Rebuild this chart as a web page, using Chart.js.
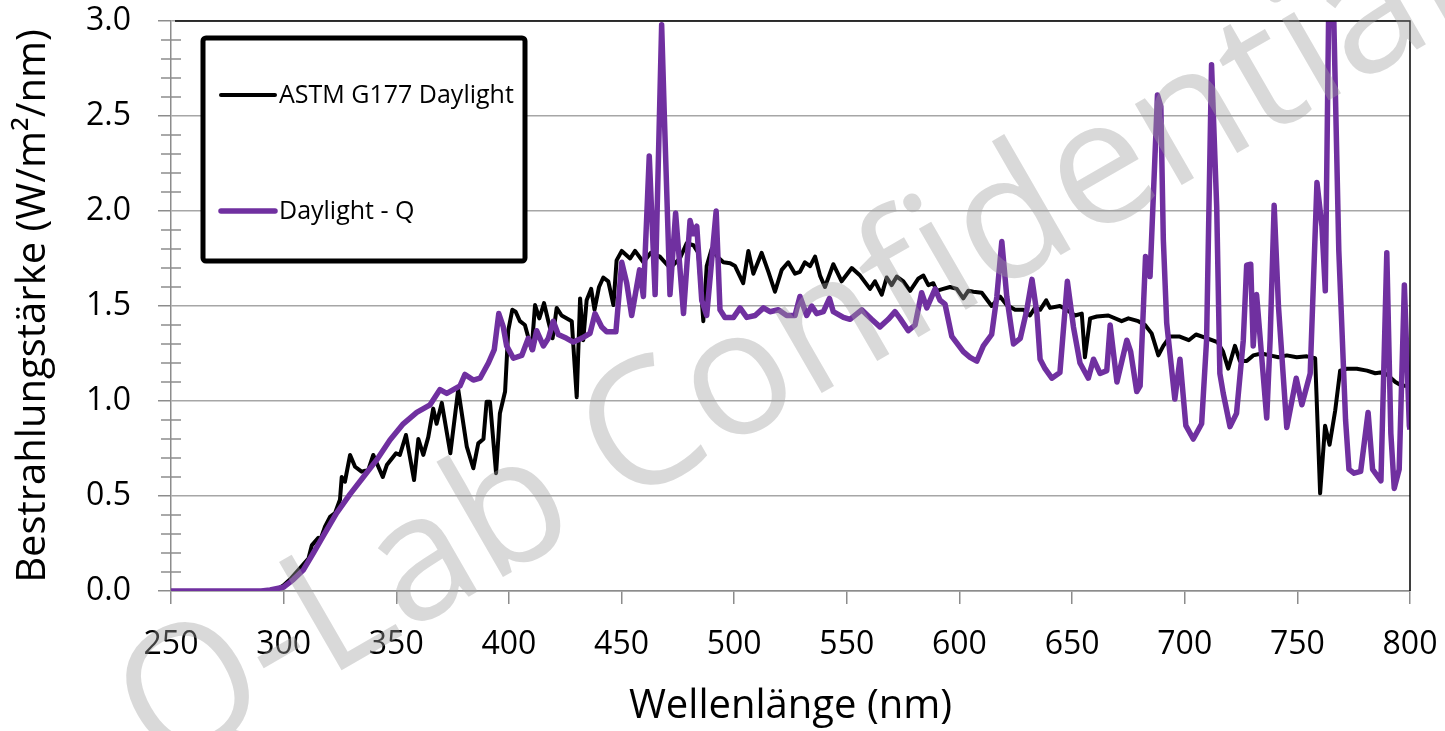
<!DOCTYPE html>
<html>
<head>
<meta charset="utf-8">
<title>Bestrahlungsstärke</title>
<script src="https://cdn.jsdelivr.net/npm/chart.js@4.4.1/dist/chart.umd.min.js"></script>
<style>
  html, body { margin: 0; padding: 0; background: #fff; }
  #wrap { width: 1445px; height: 731px; }
</style>
</head>
<body>
<div id="wrap"><canvas id="spectrumChart" width="1445" height="731"></canvas></div>
<script>
// ASTM G177 Daylight (black)
const astmWl = [250, 280, 296, 300, 302.8, 308, 311, 312.5, 315.4, 316, 318.4, 320.6, 322.8, 325, 325.8, 327.2, 329.5, 331.7, 334.6, 337.6,
  339.8, 344, 345.8, 349.9, 351.6, 354.3, 357.9, 359.8, 362, 364.2, 366.4, 367.9, 370.2, 374, 377.5, 381.3, 384.2, 386.4, 388.7, 390.1,
  391.6, 394.3, 396, 398.3, 399.7, 401.5, 403, 404.9, 407.1, 410.1, 411.6, 413.5, 415.6, 417.5, 419.4, 421.2, 423.4, 427.9, 430.1, 431.6,
  433, 434.5, 436.5, 438, 440, 441.9, 444.1, 446.4, 447.8, 450.1, 453.8, 456, 459.7, 463, 467, 471.5, 475.9, 478.9, 481.9, 484.1,
  486.3, 487.8, 490, 492.5, 495.2, 498.2, 500.4, 504, 506.3, 508.5, 512.2, 515.2, 518.1, 521.1, 524, 527, 529.2, 531.4, 533.7, 535.9,
  538.1, 540.3, 544, 547.7, 552.2, 555.9, 560.3, 562.5, 565.5, 567.7, 569.9, 572.2, 575.1, 578.1, 581.8, 584, 586.2, 588.4, 589.9, 592.8,
  595.8, 598.8, 601.7, 603.9, 606.2, 609.9, 614.3, 618, 621, 624.7, 628.4, 631.3, 633.5, 635.8, 638.5, 640.2, 644.6, 647.6, 651.3, 654.3,
  655.7, 658, 661, 666.1, 672, 675, 679.4, 682.4, 685.3, 688.3, 690.5, 693.5, 697.5, 701.8, 705, 710, 714.5, 717, 719.3, 722.3,
  724.5, 727.5, 730.4, 734.1, 737.8, 741.6, 745.3, 749.7, 754.2, 757.9, 760.1, 762.3, 764.3, 766.8, 769, 772, 776.4, 780.9, 784.6, 786.8,
  789.8, 793.5, 796.4, 800];
const astmVal = [0, 0, 0, 0.03, 0.06, 0.13, 0.17, 0.24, 0.28, 0.26, 0.34, 0.39, 0.41, 0.48, 0.60, 0.575, 0.716, 0.654, 0.628, 0.637,
  0.716, 0.60, 0.663, 0.725, 0.716, 0.821, 0.584, 0.80, 0.716, 0.81, 0.96, 0.88, 0.99, 0.725, 1.06, 0.76, 0.646, 0.777, 0.80, 0.996,
  0.996, 0.62, 0.935, 1.05, 1.37, 1.48, 1.47, 1.42, 1.40, 1.27, 1.505, 1.435, 1.515, 1.42, 1.33, 1.49, 1.45, 1.42, 1.02, 1.54,
  1.32, 1.53, 1.59, 1.48, 1.60, 1.65, 1.63, 1.505, 1.74, 1.79, 1.75, 1.79, 1.73, 1.78, 1.76, 1.70, 1.75, 1.83, 1.82, 1.78,
  1.42, 1.71, 1.80, 1.76, 1.73, 1.725, 1.71, 1.62, 1.79, 1.67, 1.78, 1.68, 1.575, 1.69, 1.73, 1.67, 1.68, 1.73, 1.71, 1.76,
  1.66, 1.60, 1.72, 1.63, 1.70, 1.66, 1.59, 1.63, 1.56, 1.65, 1.61, 1.655, 1.63, 1.58, 1.645, 1.66, 1.61, 1.62, 1.58, 1.59,
  1.60, 1.59, 1.54, 1.58, 1.575, 1.57, 1.50, 1.55, 1.505, 1.48, 1.48, 1.45, 1.49, 1.48, 1.53, 1.49, 1.50, 1.48, 1.45, 1.46,
  1.23, 1.435, 1.445, 1.45, 1.42, 1.435, 1.42, 1.40, 1.356, 1.24, 1.29, 1.34, 1.34, 1.32, 1.35, 1.33, 1.31, 1.26, 1.17, 1.29,
  1.21, 1.21, 1.24, 1.25, 1.24, 1.23, 1.24, 1.23, 1.235, 1.225, 0.514, 0.87, 0.77, 0.95, 1.16, 1.17, 1.17, 1.16, 1.146, 1.15,
  1.14, 1.10, 1.08, 1.08];

// Daylight - Q (purple)
const qWl = [250, 290, 294, 299.9, 304.3, 308.7, 313.2, 317.6, 323.5, 329.5, 335.4, 341.3, 347.2, 353.1, 359.1, 365, 369.4, 372.4, 378.3, 380.5,
  384.2, 387.2, 390.9, 393.5, 395.5, 397.5, 399, 402, 405.7, 408.6, 410.5, 412.3, 415.3, 417.5, 419.7, 421.9, 425.6, 428.6, 432.3, 436,
  438.2, 441.2, 443.4, 447.5, 450.1, 452.3, 454.5, 458, 459.7, 462.3, 464.9, 467.8, 469, 471.5, 474, 477.5, 480.4, 481.9, 483.4, 485.6,
  487.8, 492, 493.7, 495.9, 499.7, 502.6, 505.6, 509.3, 513, 515.9, 519.6, 523.3, 527, 529.2, 532.2, 534.4, 536.6, 539.6, 542.3, 544,
  548.5, 551.4, 556.6, 561, 564.7, 568.4, 571.4, 573.6, 577.3, 580.3, 583.2, 585.5, 589.2, 591.4, 593.6, 596.6, 601.7, 604.7, 607.7, 610.6,
  614.3, 616.6, 618.8, 621, 624, 627, 629.9, 632.2, 634.4, 635.8, 638, 641, 644.6, 647.9, 650.6, 653.5, 657.2, 659.5, 662.4, 665.4,
  666.9, 669.9, 674.3, 676, 678.7, 680.2, 682.6, 684.6, 687.9, 689.4, 690.5, 692, 695.6, 697.9, 700.5, 703.8, 707.5, 709.7, 711.9, 714.2,
  715.6, 717.1, 720.1, 723, 726, 727.5, 729.3, 730.4, 731.9, 736.4, 737.9, 739.7, 741.6, 745.3, 749.5, 752, 755.7, 758.7, 760.9, 762.4,
  763.9, 766.1, 768.4, 771.4, 772.9, 775.2, 778.1, 781.4, 783.4, 787.1, 789.7, 791.5, 793, 795.2, 797.5, 799.7, 800];
const qVal = [0, 0, 0.005, 0.02, 0.06, 0.11, 0.20, 0.29, 0.41, 0.51, 0.60, 0.69, 0.795, 0.88, 0.94, 0.98, 1.06, 1.04, 1.08, 1.14,
  1.11, 1.12, 1.20, 1.27, 1.46, 1.39, 1.29, 1.225, 1.24, 1.33, 1.27, 1.37, 1.29, 1.33, 1.42, 1.35, 1.33, 1.31, 1.33, 1.356,
  1.46, 1.39, 1.365, 1.365, 1.73, 1.62, 1.45, 1.69, 1.55, 2.29, 1.56, 2.98, 2.5, 1.56, 1.99, 1.46, 1.95, 1.88, 1.92, 1.53,
  1.45, 2.0, 1.48, 1.44, 1.44, 1.49, 1.44, 1.45, 1.49, 1.47, 1.48, 1.45, 1.45, 1.55, 1.45, 1.50, 1.46, 1.47, 1.54, 1.47,
  1.44, 1.43, 1.48, 1.43, 1.39, 1.43, 1.47, 1.435, 1.37, 1.40, 1.57, 1.49, 1.59, 1.53, 1.51, 1.34, 1.26, 1.23, 1.21, 1.29,
  1.35, 1.55, 1.84, 1.55, 1.30, 1.33, 1.48, 1.64, 1.46, 1.22, 1.17, 1.12, 1.15, 1.63, 1.39, 1.20, 1.12, 1.22, 1.145, 1.16,
  1.40, 1.10, 1.32, 1.26, 1.05, 1.08, 1.76, 1.655, 2.61, 2.55, 1.85, 1.41, 1.01, 1.22, 0.87, 0.80, 0.88, 1.32, 2.77, 2.02,
  1.145, 1.04, 0.865, 0.935, 1.32, 1.715, 1.72, 1.29, 1.56, 0.91, 1.32, 2.03, 1.50, 0.86, 1.12, 0.98, 1.145, 2.15, 1.92, 1.58,
  3.05, 3.05, 1.79, 0.90, 0.64, 0.62, 0.63, 0.94, 0.64, 0.58, 1.78, 0.83, 0.54, 0.64, 1.61, 0.87, 0.85];

const seriesLabels = ['ASTM G177 Daylight', 'Daylight - Q'];
const seriesColors = ['#000000', '#7030A0'];
const yMajorStep = 0.5;
const yMinorStep = 0.1;
const fontName = '"Open Sans", "Noto Sans", sans-serif';

function toPoints(xs, ys) {
  return xs.map((x, i) => ({ x: x, y: ys[i] }));
}

// minor ticks, black top/right frame, legend, watermark
const decorPlugin = {
  id: 'decor',
  afterDraw(chart) {
    const ctx = chart.ctx;
    const area = chart.chartArea;
    const yScale = chart.scales.y;

    ctx.save();
    // minor y ticks crossing the axis
    ctx.strokeStyle = '#8c8c8c';
    ctx.lineWidth = 1.5;
    for (let v = 0; v <= 3.0001; v += yMinorStep) {
      const r = Math.round(v * 10) / 10;
      if (Math.abs(r / yMajorStep - Math.round(r / yMajorStep)) < 1e-6) continue;
      const py = yScale.getPixelForValue(r);
      ctx.beginPath();
      ctx.moveTo(area.left - 10, py);
      ctx.lineTo(area.left + 10, py);
      ctx.stroke();
    }
    // frame top/right
    ctx.strokeStyle = '#000';
    ctx.lineWidth = 1.5;
    ctx.beginPath();
    ctx.moveTo(area.left + 4, area.top);
    ctx.lineTo(area.right, area.top);
    ctx.lineTo(area.right, area.bottom);
    ctx.stroke();

    // legend box
    const bx = 203, by = 38, bw = 322, bh = 223;
    ctx.fillStyle = '#fff';
    ctx.strokeStyle = '#000';
    ctx.lineWidth = 5;
    ctx.beginPath();
    ctx.roundRect(bx, by, bw, bh, 3);
    ctx.fill();
    ctx.stroke();
    const rows = [95, 211];
    const widths = [4, 5.5];
    ctx.font = '25px ' + fontName;
    ctx.textBaseline = 'middle';
    ctx.textAlign = 'left';
    seriesLabels.forEach((lab, i) => {
      ctx.strokeStyle = seriesColors[i];
      ctx.lineWidth = widths[i];
      ctx.lineCap = 'round';
      ctx.beginPath();
      ctx.moveTo(221, rows[i]);
      ctx.lineTo(275, rows[i]);
      ctx.stroke();
      ctx.fillStyle = '#000';
      ctx.fillText(lab, 279, rows[i] + 1);
    });

    // watermark
    ctx.translate(160, 775);
    ctx.rotate(-30 * Math.PI / 180);
    ctx.font = '175px ' + fontName;
    ctx.textBaseline = 'alphabetic';
    ctx.fillStyle = 'rgba(160,160,160,0.4)';
    ctx.fillText('Q-Lab Confidential', 0, 0);
    ctx.restore();
  }
};

new Chart(document.getElementById('spectrumChart'), {
  type: 'line',
  data: {
    datasets: [
      {
        label: seriesLabels[1],
        data: toPoints(qWl, qVal),
        borderColor: seriesColors[1],
        borderWidth: 5.5,
        pointRadius: 0,
        tension: 0,
        borderJoinStyle: 'round',
        order: 0
      },
      {
        label: seriesLabels[0],
        data: toPoints(astmWl, astmVal),
        borderColor: seriesColors[0],
        borderWidth: 4,
        pointRadius: 0,
        tension: 0,
        borderJoinStyle: 'round',
        order: 1
      }
    ]
  },
  options: {
    responsive: false,
    animation: false,
    layout: { padding: { top: 21, right: 35, left: 0, bottom: 0 } },
    plugins: { legend: { display: false }, tooltip: { enabled: false } },
    scales: {
      x: {
        type: 'linear',
        min: 250,
        max: 800,
        afterFit: s => { s.height = 140; s.paddingLeft = 0; s.paddingRight = 0; },
        ticks: { stepSize: 50, color: '#000', font: { family: fontName, size: 32 }, padding: 22, maxRotation: 0 },
        grid: { drawOnChartArea: false, drawTicks: true, tickLength: 13, color: '#8c8c8c', lineWidth: 1.5 },
        border: { color: '#8c8c8c', width: 1.5 },
        title: { display: true, text: 'Wellenlänge (nm)', color: '#000', font: { family: fontName, size: 40 }, padding: { bottom: 0, top: 0 } }
      },
      y: {
        min: 0,
        max: 3,
        afterFit: s => { s.width = 171; s.paddingTop = 0; s.paddingBottom = 0; },
        ticks: { stepSize: yMajorStep, color: '#000', font: { family: fontName, size: 32 }, padding: 27, callback: v => v.toFixed(1) },
        grid: { color: '#a6a6a6', lineWidth: 1.5, tickLength: 13, tickColor: '#8c8c8c' },
        border: { color: '#8c8c8c', width: 1.5 },
        title: { display: true, text: 'Bestrahlungstärke (W/m²/nm)', color: '#000', font: { family: fontName, size: 40 }, padding: { top: 10, bottom: 0 } }
      }
    }
  },
  plugins: [decorPlugin]
});
</script>
</body>
</html>
